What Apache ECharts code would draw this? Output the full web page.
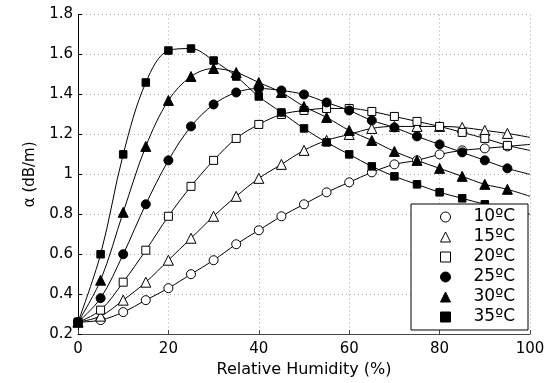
<!DOCTYPE html>
<html>
<head>
<meta charset="utf-8">
<script src="https://cdn.jsdelivr.net/npm/echarts@6/dist/echarts.min.js"></script>
<style>
html,body{margin:0;padding:0;background:#fff;}
#c{width:558px;height:383px;}
</style>
</head>
<body>
<div id="c"></div>
<script>
// Relative humidity (%)
var hum = [0,5,10,15,20,25,30,35,40,45,50,55,60,65,70,75,80,85,90,95,100];
// attenuation alpha (dB/m) per temperature
var t10 = [0.26,0.27,0.31,0.37,0.43,0.50,0.57,0.65,0.72,0.79,0.85,0.91,0.96,1.01,1.05,1.07,1.10,1.12,1.13,1.14,1.15];
var t15 = [0.26,0.29,0.37,0.46,0.57,0.68,0.79,0.89,0.98,1.05,1.12,1.17,1.20,1.23,1.24,1.24,1.24,1.235,1.22,1.205,1.185];
var t20 = [0.26,0.32,0.46,0.62,0.79,0.94,1.07,1.18,1.25,1.30,1.32,1.33,1.33,1.315,1.29,1.265,1.24,1.21,1.18,1.145,1.12];
var t25 = [0.26,0.38,0.60,0.85,1.07,1.24,1.35,1.41,1.43,1.42,1.40,1.36,1.32,1.27,1.235,1.19,1.15,1.11,1.07,1.03,1.00];
var t30 = [0.26,0.47,0.81,1.14,1.37,1.49,1.53,1.51,1.46,1.41,1.34,1.285,1.22,1.17,1.115,1.07,1.03,0.99,0.95,0.925,0.89];
var t35 = [0.26,0.60,1.10,1.46,1.62,1.63,1.57,1.49,1.39,1.31,1.23,1.16,1.10,1.04,0.99,0.95,0.91,0.88,0.85,0.825,0.80];
var names = ['10ºC','15ºC','20ºC','25ºC','30ºC','35ºC'];
var xTicks = [0,20,40,60,80,100];
var yTicks = [0.2,0.4,0.6,0.8,1,1.2,1.4,1.6,1.8];

var FONT = 'DejaVu Sans';
var cfg = [
  {name:names[0], vals:t10, symbol:'circle',   size:9,  fill:'#fff'},
  {name:names[1], vals:t15, symbol:'triangle', size:10, fill:'#fff'},
  {name:names[2], vals:t20, symbol:'rect',     size:8,  fill:'#fff'},
  {name:names[3], vals:t25, symbol:'circle',   size:9,  fill:'#000'},
  {name:names[4], vals:t30, symbol:'triangle', size:10, fill:'#000'},
  {name:names[5], vals:t35, symbol:'rect',     size:7.5,fill:'#000'}
];

var series = cfg.map(function(c){
  var data = hum.map(function(h,i){
    var item = {value:[h, c.vals[i]]};
    if (h === 100) item.symbol = 'none';
    return item;
  });
  return {
    name:c.name, type:'line', data:data,
    smooth:0.35,
    symbol:c.symbol, symbolSize:c.size, showAllSymbol:true,
    lineStyle:{color:'#000', width:1},
    itemStyle:{color:c.fill, borderColor:'#000', borderWidth:1},
    emphasis:{disabled:true},
    animation:false
  };
});

var chart = echarts.init(document.getElementById('c'), null, {renderer:'canvas'});
chart.setOption({
  animation:false,
  backgroundColor:'#fff',
  grid:{left:78, right:28, top:14.6, bottom:46, containLabel:false},
  xAxis:{
    type:'value', min:xTicks[0], max:xTicks[xTicks.length-1], interval:20,
    name:'Relative Humidity (%)', nameLocation:'middle', nameGap:22,
    nameTextStyle:{fontFamily:FONT, fontSize:16, color:'#000'},
    axisLine:{lineStyle:{color:'#444', width:1}},
    axisTick:{inside:true, length:4, lineStyle:{color:'#444'}},
    axisLabel:{fontFamily:FONT, fontSize:15, color:'#000', margin:8},
    splitLine:{show:true, lineStyle:{color:'#aaa', type:[1,3], width:1}}
  },
  yAxis:{
    type:'value', min:yTicks[0], max:yTicks[yTicks.length-1], interval:0.2,
    name:'α (dB/m)', nameLocation:'middle', nameGap:40, nameRotate:90,
    nameTextStyle:{fontFamily:FONT, fontSize:15, color:'#000'},
    axisLine:{show:true, lineStyle:{color:'#000', width:1}},
    axisTick:{show:true, inside:true, length:4, lineStyle:{color:'#000'}},
    axisLabel:{fontFamily:FONT, fontSize:15, color:'#000', margin:5},
    splitLine:{show:true, lineStyle:{color:'#aaa', type:[1,3], width:1}}
  },
  legend:{
    orient:'vertical', left:411, top:204,
    padding:[3,13,3,29], itemGap:0,
    itemWidth:10, itemHeight:10,
    backgroundColor:'#fff', borderColor:'#000', borderWidth:1,
    itemStyle:{borderWidth:1},
    textStyle:{fontFamily:FONT, fontSize:17, color:'#000', lineHeight:20, padding:[0,0,0,18]},
    selectedMode:false,
    data:cfg.map(function(c){return {name:c.name, icon:c.symbol};})
  },
  series:series
});
</script>
</body>
</html>
